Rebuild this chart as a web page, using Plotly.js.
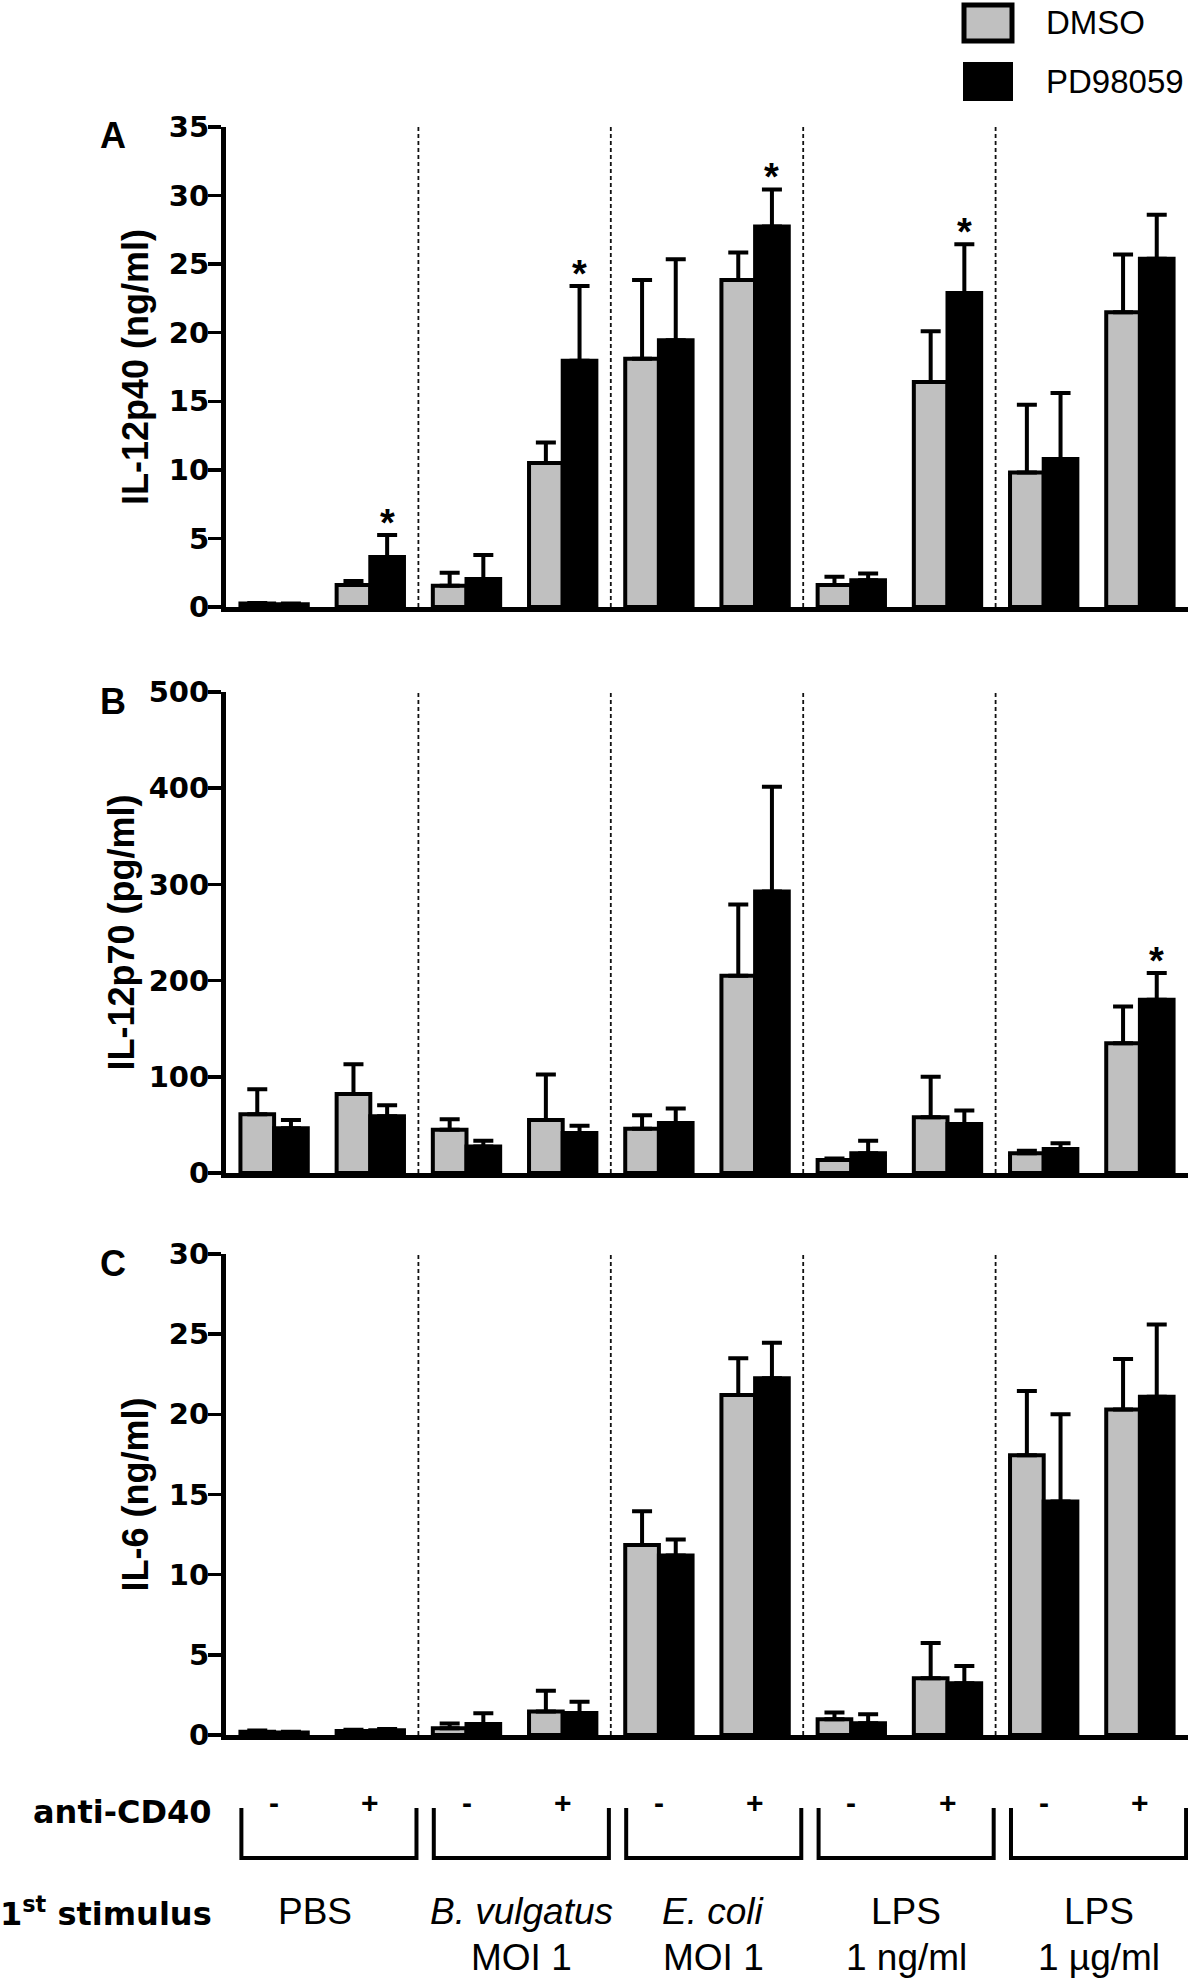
<!DOCTYPE html>
<html>
<head>
<meta charset="utf-8">
<script src="https://cdn.plot.ly/plotly-3.0.1.min.js"></script>
<style>html,body{margin:0;padding:0;background:#fff;}#chart{width:1200px;height:1981px;}</style>
</head>
<body>
<div id="chart"></div>
<script>
// ---------------- data ----------------
const antiCD40 = ['-', '+', '-', '+', '-', '+', '-', '+', '-', '+'];
const groupLine1 = ['PBS', '<i>B. vulgatus</i>', '<i>E. coli</i>', 'LPS', 'LPS'];
const groupLine2 = ['', 'MOI 1', 'MOI 1', '1 ng/ml', '1 µg/ml'];
const seriesNames = ['DMSO', 'PD98059'];

// Panel A: IL-12p40 (ng/ml)
const A_dmso     = [0.25, 1.6, 1.55, 10.5, 18.1, 23.85, 1.6, 16.4, 9.8, 21.5];
const A_dmso_err = [0.05, 0.3, 0.95, 1.5, 5.75, 2.0, 0.6, 3.7, 4.95, 4.2];
const A_pd       = [0.2, 3.65, 2.05, 17.95, 19.45, 27.75, 1.95, 22.9, 10.8, 25.4];
const A_pd_err   = [0.05, 1.6, 1.75, 5.45, 5.9, 2.7, 0.5, 3.55, 4.8, 3.2];
const A_sig      = [false, true, false, true, false, true, false, true, false, false];

// Panel B: IL-12p70 (pg/ml)
const B_dmso     = [61, 82, 45, 55, 46, 205, 13.5, 58, 20.5, 135];
const B_dmso_err = [26, 31, 11, 47.5, 14, 74, 1.5, 42, 2.5, 38];
const B_pd       = [46.5, 59, 27.5, 41.5, 52, 292.5, 20.5, 51, 25, 180];
const B_pd_err   = [8.5, 11.5, 6, 7.5, 15, 109, 13, 14, 6, 28];
const B_sig      = [false, false, false, false, false, false, false, false, false, true];

// Panel C: IL-6 (ng/ml)
const C_dmso     = [0.2, 0.25, 0.42, 1.46, 11.85, 21.2, 0.98, 3.54, 17.45, 20.3];
const C_dmso_err = [0.08, 0.08, 0.3, 1.3, 2.1, 2.3, 0.43, 2.2, 4.0, 3.15];
const C_pd       = [0.15, 0.3, 0.69, 1.37, 11.2, 22.25, 0.73, 3.22, 14.56, 21.1];
const C_pd_err   = [0.05, 0.08, 0.66, 0.7, 1.0, 2.22, 0.56, 1.08, 5.45, 4.5];
const C_sig      = [false, false, false, false, false, false, false, false, false, false];

const panelLetters = ['A', 'B', 'C'];
const yTitles = ['IL-12p40 (ng/ml)', 'IL-12p70 (pg/ml)', 'IL-6 (ng/ml)'];
const yTicks = [[0, 5, 10, 15, 20, 25, 30, 35], [0, 100, 200, 300, 400, 500], [0, 5, 10, 15, 20, 25, 30]];

// ---------------- layout helpers ----------------
const W = 1200, H = 1981;
const px = x => x / W;
const py = y => 1 - y / H;
const xDom = [px(226), px(1188)];
const panelTop = [127, 692, 1254];
const panelBot = [607, 1173, 1735];
const titleX = [135, 121, 135];
const labelShift = [-14, 0, 0, 0, 0];

const GRAY = '#c0c0c0';
const FONT_ARIAL = '"Liberation Sans", Arial, sans-serif';
const FONT_TICK = '"DejaVu Sans", sans-serif';

const idx = antiCD40.map((_, i) => i);
const zeros = idx.map(() => 0);

const panels = [
  {dmso: A_dmso, de: A_dmso_err, pd: A_pd, pe: A_pd_err, sig: A_sig},
  {dmso: B_dmso, de: B_dmso_err, pd: B_pd, pe: B_pd_err, sig: B_sig},
  {dmso: C_dmso, de: C_dmso_err, pd: C_pd, pe: C_pd_err, sig: C_sig}
];

const traces = [];
const layout = {
  width: W, height: H,
  margin: {l: 0, r: 0, t: 0, b: 0},
  paper_bgcolor: 'white', plot_bgcolor: 'white',
  showlegend: false,
  barmode: 'group', bargap: 0.3, bargroupgap: 0,
  shapes: [], annotations: []
};

panels.forEach((p, k) => {
  const sfx = k === 0 ? '' : String(k + 1);
  const xa = 'x' + sfx, ya = 'y' + sfx;
  const errStyle = {type: 'data', symmetric: false, color: 'black', thickness: 4, width: 10};
  traces.push({
    type: 'bar', name: seriesNames[0], x: idx, y: p.dmso, xaxis: xa, yaxis: ya,
    marker: {color: GRAY, line: {color: 'black', width: 4}},
    error_y: Object.assign({array: p.de, arrayminus: zeros}, errStyle),
    hoverinfo: 'y'
  });
  traces.push({
    type: 'bar', name: seriesNames[1], x: idx, y: p.pd, xaxis: xa, yaxis: ya,
    marker: {color: 'black', line: {color: 'black', width: 4}},
    error_y: Object.assign({array: p.pe, arrayminus: zeros}, errStyle),
    hoverinfo: 'y'
  });
  const yt = yTicks[k];
  layout['xaxis' + sfx] = {
    domain: xDom, anchor: ya, range: [-0.5, 9.5],
    showline: true, linewidth: 5, linecolor: 'black',
    ticks: '', showticklabels: false, showgrid: false, zeroline: false, fixedrange: true
  };
  layout['yaxis' + sfx] = {
    domain: [py(panelBot[k]), py(panelTop[k])], anchor: xa,
    range: [0, yt[yt.length - 1]], tickvals: yt,
    ticks: 'outside', ticklen: 13, tickwidth: 3.5, tickcolor: 'black',
    ticklabelstandoff: -7,
    showline: true, linewidth: 5, linecolor: 'black',
    showgrid: false, zeroline: false, fixedrange: true,
    tickfont: {family: FONT_TICK, size: 29, color: 'black', weight: 'bold'}
  };
  // dashed group separators
  [1.5, 3.5, 5.5, 7.5].forEach(xv => {
    layout.shapes.push({
      type: 'line', xref: xa, yref: ya + ' domain', x0: xv, x1: xv, y0: 0, y1: 1,
      line: {color: '#111', width: 1.8, dash: '4px,3px'}
    });
  });
  // significance stars
  p.sig.forEach((s, i) => {
    if (!s) return;
    layout.annotations.push({
      xref: xa, yref: ya, x: i + 0.175, y: p.pd[i] + p.pe[i],
      text: '<b>*</b>', showarrow: false, yanchor: 'middle', yshift: 12,
      font: {family: FONT_ARIAL, size: 38, color: 'black'}
    });
  });
  // panel letter
  layout.annotations.push({
    xref: 'paper', yref: 'paper', x: px(113), y: py(panelTop[k] + 9),
    text: '<b>' + panelLetters[k] + '</b>', showarrow: false,
    xanchor: 'center', yanchor: 'middle',
    font: {family: FONT_ARIAL, size: 36, color: 'black'}
  });
  // y-axis title
  layout.annotations.push({
    xref: 'paper', yref: 'paper', x: px(titleX[k]), y: py((panelTop[k] + panelBot[k]) / 2),
    text: '<b>' + yTitles[k] + '</b>', showarrow: false, textangle: -90,
    xanchor: 'center', yanchor: 'middle',
    font: {family: FONT_ARIAL, size: 36, color: 'black'}
  });
});

// legend (drawn)
layout.shapes.push({type: 'rect', xref: 'paper', yref: 'paper',
  x0: px(964), x1: px(1012), y0: py(41), y1: py(5),
  fillcolor: GRAY, line: {color: 'black', width: 5}});
layout.shapes.push({type: 'rect', xref: 'paper', yref: 'paper',
  x0: px(964), x1: px(1012), y0: py(100), y1: py(63),
  fillcolor: 'black', line: {color: 'black', width: 2}});
layout.annotations.push({xref: 'paper', yref: 'paper', x: px(1044), y: py(22),
  text: seriesNames[0], showarrow: false, xanchor: 'left', yanchor: 'middle',
  font: {family: FONT_ARIAL, size: 33, color: 'black'}});
layout.annotations.push({xref: 'paper', yref: 'paper', x: px(1044), y: py(81),
  text: seriesNames[1], showarrow: false, xanchor: 'left', yanchor: 'middle',
  font: {family: FONT_ARIAL, size: 33, color: 'black'}});

// bottom: anti-CD40 row, brackets, stimulus labels
layout.annotations.push({xref: 'paper', yref: 'paper', x: px(214), y: py(1812),
  text: '<b>anti-CD40</b>', showarrow: false, xanchor: 'right', yanchor: 'middle',
  font: {family: FONT_TICK, size: 32, color: 'black'}});
layout.annotations.push({xref: 'paper', yref: 'paper', x: px(214), y: py(1912),
  text: '<b>1<sup>st</sup> stimulus</b>', showarrow: false, xanchor: 'right', yanchor: 'middle',
  font: {family: FONT_TICK, size: 32, color: 'black'}});

antiCD40.forEach((s, i) => {
  layout.annotations.push({xref: 'x3', yref: 'paper', x: i, y: py(1802),
    text: '<b>' + s + '</b>', showarrow: false, xanchor: 'center', yanchor: 'middle',
    font: {family: FONT_ARIAL, size: 30, color: 'black'}});
});

groupLine1.forEach((t, g) => {
  const xl = 2 * g - 0.5 + 0.16, xr = 2 * g + 1.5 - 0.02;
  layout.shapes.push({type: 'path', xref: 'x3', yref: 'paper',
    path: 'M' + xl + ',' + py(1808) + ' L' + xl + ',' + py(1858) + ' L' + xr + ',' + py(1858) + ' L' + xr + ',' + py(1808),
    line: {color: 'black', width: 4}});
  const xc = (xl + xr) / 2;
  layout.annotations.push({xref: 'x3', yref: 'paper', x: xc, y: py(1911), xshift: labelShift[g],
    text: t, showarrow: false, xanchor: 'center', yanchor: 'middle',
    font: {family: FONT_ARIAL, size: 37, color: 'black'}});
  if (groupLine2[g]) {
    layout.annotations.push({xref: 'x3', yref: 'paper', x: xc, y: py(1957), xshift: labelShift[g],
      text: groupLine2[g], showarrow: false, xanchor: 'center', yanchor: 'middle',
      font: {family: FONT_ARIAL, size: 37, color: 'black'}});
  }
});

Plotly.newPlot('chart', traces, layout, {displayModeBar: false, staticPlot: true});
</script>
</body>
</html>
